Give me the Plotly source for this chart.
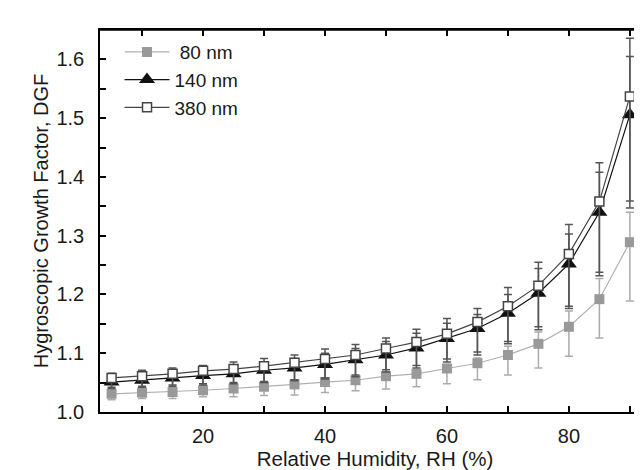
import plotly.graph_objects as go

# Relative humidity (%)
rh = [5, 10, 15, 20, 25, 30, 35, 40, 45, 50, 55, 60, 65, 70, 75, 80, 85, 90]

# Growth factors
gf_80 = [1.031, 1.033, 1.034, 1.037, 1.040, 1.043, 1.047, 1.051, 1.054, 1.061,
         1.065, 1.074, 1.083, 1.097, 1.116, 1.145, 1.192, 1.289]
gf_140 = [1.051, 1.054, 1.058, 1.062, 1.065, 1.071, 1.075, 1.081, 1.089, 1.097,
          1.109, 1.125, 1.142, 1.168, 1.202, 1.252, 1.340, 1.506]
gf_380 = [1.058, 1.061, 1.065, 1.070, 1.073, 1.078, 1.084, 1.090, 1.097, 1.108,
          1.119, 1.133, 1.153, 1.180, 1.215, 1.269, 1.358, 1.537]

# Error bars (upper / lower)
err_plus_80 = [0.007, 0.007, 0.007, 0.007, 0.007, 0.007, 0.007, 0.007, 0.007, 0.005,
               0.006, 0.007, 0.009, 0.015, 0.020, 0.027, 0.035, 0.051]
err_minus_80 = [0.010, 0.010, 0.011, 0.011, 0.014, 0.015, 0.018, 0.018, 0.018, 0.022,
                0.022, 0.026, 0.028, 0.034, 0.041, 0.050, 0.066, 0.100]
err_plus_140 = [0.011, 0.012, 0.012, 0.012, 0.014, 0.014, 0.016, 0.019, 0.019, 0.023,
                0.025, 0.026, 0.024, 0.032, 0.042, 0.051, 0.068, 0.099]
err_minus_140 = [0.011, 0.012, 0.014, 0.016, 0.017, 0.021, 0.022, 0.025, 0.029, 0.029,
                 0.034, 0.040, 0.045, 0.052, 0.062, 0.076, 0.108, 0.159]
err_plus_380 = [0.008, 0.010, 0.010, 0.009, 0.012, 0.013, 0.013, 0.017, 0.018, 0.018,
                0.022, 0.026, 0.023, 0.032, 0.040, 0.050, 0.066, 0.099]
err_minus_380 = [0.016, 0.017, 0.019, 0.022, 0.023, 0.026, 0.029, 0.032, 0.034, 0.036,
                 0.040, 0.043, 0.051, 0.060, 0.070, 0.089, 0.120, 0.178]

series_names = ["\u00a080 nm", "140 nm", "380 nm"]

FONT = "Liberation Sans, Arial, sans-serif"
TXT = "#1a1a1a"

fig = go.Figure()

fig.add_trace(go.Scatter(
    x=rh, y=gf_80, name=series_names[0], mode="lines+markers",
    line=dict(color="#b0b0b0", width=1.2),
    marker=dict(symbol="square", size=10, color="#999999", line=dict(width=0)),
    error_y=dict(type="data", symmetric=False, array=err_plus_80, arrayminus=err_minus_80,
                 color="#ababab", thickness=1.5, width=4),
))
fig.add_trace(go.Scatter(
    x=rh, y=gf_140, name=series_names[1], mode="lines+markers",
    line=dict(color="#111111", width=1.2),
    marker=dict(symbol="triangle-up", size=14, color="#111111", line=dict(width=0)),
    error_y=dict(type="data", symmetric=False, array=err_plus_140, arrayminus=err_minus_140,
                 color="#555555", thickness=1.5, width=4),
))
fig.add_trace(go.Scatter(
    x=rh, y=gf_380, name=series_names[2], mode="lines+markers",
    line=dict(color="#444444", width=1.2),
    marker=dict(symbol="square", size=9, color="white", line=dict(width=1.5, color="#444444")),
    error_y=dict(type="data", symmetric=False, array=err_plus_380, arrayminus=err_minus_380,
                 color="#555555", thickness=1.5, width=4),
))

# top frame line
fig.add_shape(type="line", xref="paper", yref="paper", x0=0, x1=1, y0=1, y1=1,
              line=dict(color="black", width=1.5), layer="above")

fig.update_layout(
    width=642, height=470,
    margin=dict(l=92, r=0, t=22, b=66, autoexpand=False),
    paper_bgcolor="white", plot_bgcolor="white",
    font=dict(family=FONT, size=20, color=TXT),
    showlegend=True,
    legend=dict(x=0.0355, y=0.992, xanchor="left", yanchor="top",
                bgcolor="rgba(0,0,0,0)", font=dict(size=19, color=TXT),
                tracegroupgap=0, itemwidth=45),
    xaxis=dict(
        range=[3.1, 93.3], tick0=0, dtick=20, ticks="inside", ticklen=6, tickwidth=1.5,
        tickcolor="black", showline=True, linecolor="black", linewidth=1.5, mirror="ticks",
        showgrid=False, zeroline=False, automargin=False,
        minor=dict(dtick=10, tick0=0, ticks="inside", ticklen=6, tickwidth=1.5, tickcolor="black", showgrid=False),
        title=dict(text="Relative Humidity, RH (%)", font=dict(size=20.5), standoff=4),
        tickfont=dict(size=20), ticklabelstandoff=5,
    ),
    yaxis=dict(
        range=[1.0, 1.65], tick0=1.0, dtick=0.1, tickformat=".1f", ticks="inside", ticklen=6,
        tickwidth=1.5, tickcolor="black", showline=True, linecolor="black", linewidth=1.5,
        mirror=False, showgrid=False, zeroline=False, automargin=False,
        minor=dict(dtick=0.05, tick0=1.0, ticks="inside", ticklen=6, tickwidth=1.5, tickcolor="black", showgrid=False),
        title=dict(text="Hygroscopic Growth Factor, DGF", font=dict(size=20), standoff=2),
        tickfont=dict(size=20), ticklabelstandoff=10,
    ),
)

fig.write_html("out.html")
